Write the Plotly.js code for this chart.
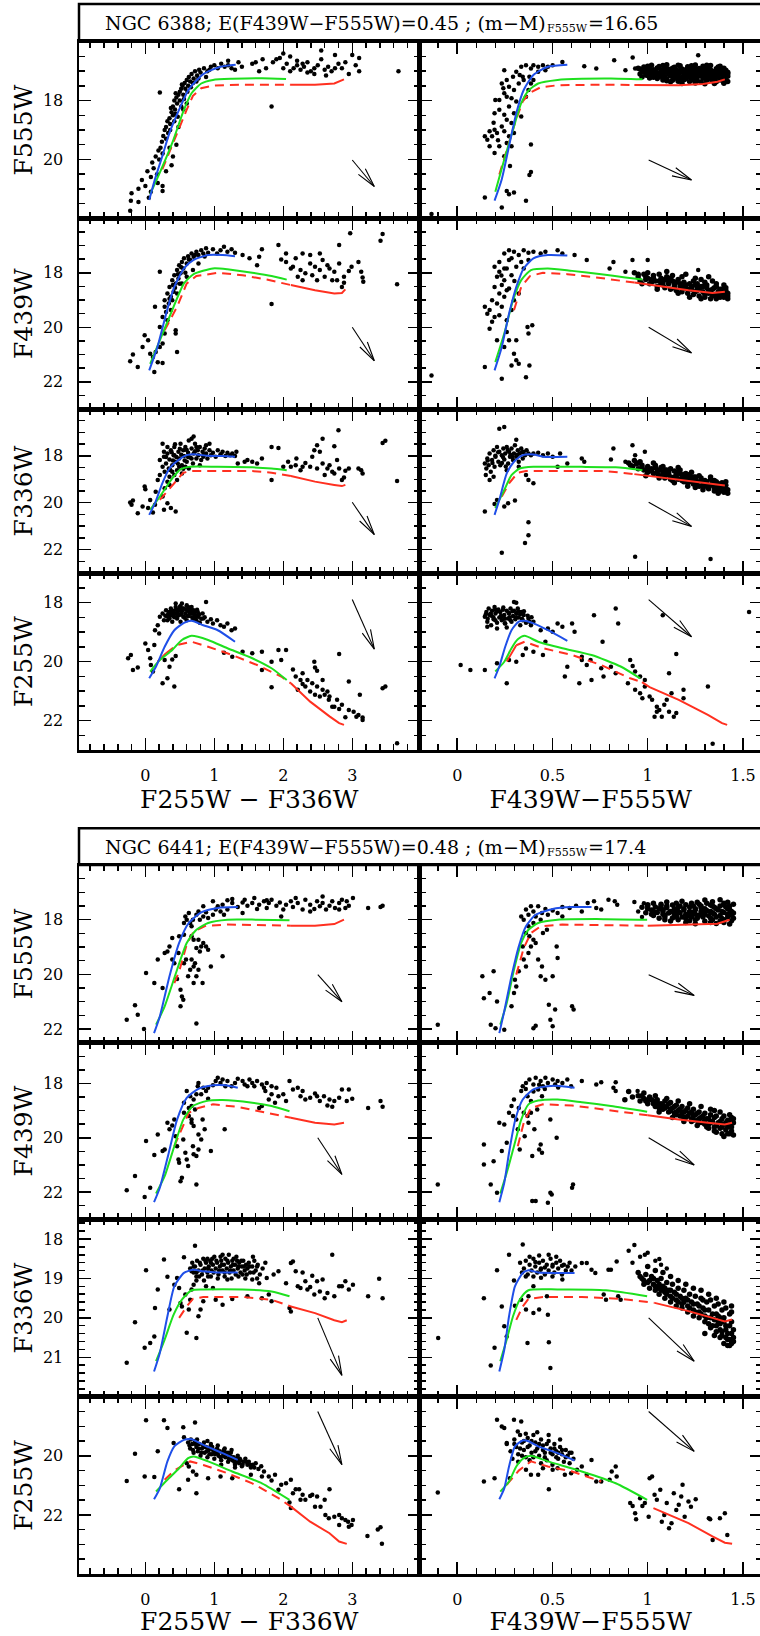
<!DOCTYPE html>
<html><head><meta charset="utf-8">
<script src="https://cdn.plot.ly/plotly-3.0.1.min.js"></script>
<style>html,body{margin:0;padding:0;overflow:hidden;background:#fff}</style>
</head><body><div id="chart"></div>
<script>
// ---------------- titles & labels ----------------
const title1Parts = ['NGC 6388; E(F439W\u2212F555W)=0.45 ; (m\u2212M)', 'F555W', '=16.65'];
const title2Parts = ['NGC 6441; E(F439W\u2212F555W)=0.48 ; (m\u2212M)', 'F555W', '=17.4'];
const xTitles = ['F255W \u2212 F336W', 'F439W\u2212F555W'];
const yTitles = ['F555W','F439W','F336W','F255W','F555W','F439W','F336W','F255W'];
const xTickVals = [[0,1,2,3],[0,0.5,1,1.5]];
const xTickText = [['0','1','2','3'],['0','0.5','1','1.5']];
const yTickVals = [[18,20],[18,20,22],[18,20,22],[18,20,22],[18,20,22],[18,20,22],[18,19,20,21],[20,22]];
const yTickText = [['18','20'],['18','20','22'],['18','20','22'],['18','20','22'],['18','20','22'],['18','20','22'],['18','19','20','21'],['20','22']];

// ================= NGC 6388 =================
// --- row 1 : F555W ---
const A1L_blue = [[0.056,21.38],[0.14,20.67],[0.246,19.89],[0.35,19.10],[0.49,18.31],[0.63,17.62],[0.84,17.10],[1.09,16.85],[1.31,16.78]];
const A1L_green = [[0.07,21.18],[0.21,20.45],[0.39,19.44],[0.56,18.31],[0.67,17.75],[0.81,17.42],[0.98,17.30],[1.26,17.26],[1.69,17.24],[2.04,17.27]];
const A1L_rdash = [[0.246,20.34],[0.42,19.33],[0.60,18.31],[0.69,17.84],[0.81,17.58],[0.98,17.49],[1.41,17.46],[1.83,17.46],[2.11,17.46]];
const A1L_rsolid = [[2.11,17.46],[2.46,17.46],[2.74,17.42],[2.88,17.28]];
const A1L_arrow = [3.0,20.02,3.32,20.92];
const A1L_pts = [[-0.22,21.74],[-0.21,21.4],[-0.2,21.15],[-0.1,21.45],[-0.1,21.0],[-0.05,20.7],[0.0,20.9],[0.03,20.4],[0.05,21.3],[0.08,21.1],[0.1,20.1],[0.12,20.3],[0.15,19.9],[0.17,20.5],[0.19,19.7],[0.2,20.0],[0.22,19.6],[0.24,19.4],[0.25,19.8],[0.26,19.2],[0.28,19.0],[0.3,19.3],[0.3,18.9],[0.32,18.7],[0.33,19.1],[0.35,18.6],[0.36,18.8],[0.38,18.4],[0.4,18.5],[0.4,18.2],[0.42,18.0],[0.43,18.3],[0.45,17.9],[0.46,18.1],[0.48,17.8],[0.5,17.7],[0.5,18.0],[0.52,17.6],[0.54,17.5],[0.55,17.8],[0.57,17.4],[0.58,17.6],[0.6,17.3],[0.62,17.5],[0.63,17.2],[0.65,17.35],[0.67,17.1],[0.7,17.25],[0.72,17.0],[0.75,17.15],[0.78,16.95],[0.8,17.05],[0.85,16.9],[0.9,17.0],[0.95,16.85],[1.0,16.8],[1.05,16.9],[1.1,16.75],[1.15,16.85],[1.2,16.8],[1.25,16.9],[1.3,16.95],[0.21,17.73],[0.35,19.6],[0.4,19.9],[0.38,20.2],[0.45,19.5],[0.25,21.07],[0.55,18.3],[0.6,18.1],[0.48,18.9],[0.44,18.45],[0.25,20.9],[0.18,20.8],[0.08,20.6],[0.3,20.4],[0.36,19.0],[0.42,18.7],[0.47,18.55],[0.52,18.2],[0.56,17.95],[0.66,17.55],[0.74,17.35],[0.88,17.2],[0.37,18.25],[0.44,17.75],[0.53,17.45],[0.61,17.7],[0.69,17.4],[0.77,17.25],[0.93,16.95],
[1.4,16.85],[1.55,16.75],[1.65,17.0],[1.75,16.9],[1.85,16.7],[1.9,16.6],[2.0,16.9],[2.05,16.75],[2.1,17.0],[2.15,16.9],[2.2,16.8],[2.25,16.95],[2.3,16.85],[2.35,16.7],[2.4,17.0],[2.45,16.9],[2.5,16.8],[2.55,16.6],[2.6,16.95],[2.65,16.85],[2.7,17.0],[2.75,16.9],[2.8,16.75],[2.9,16.7],[3.05,16.8],[3.1,17.0],[3.1,16.55],[2.1,16.5],[2.0,16.4],[1.95,16.55],[2.55,16.3],[3.0,16.45],[2.75,16.45],[2.2,16.65],[2.35,17.05],[2.45,17.1],[1.6,16.7],[1.2,16.65],[1.35,16.7],[3.67,17.0],[1.83,18.2],[2.85,16.9],[2.95,17.1],[2.62,17.15],[2.28,16.75],[1.7,16.6]];

const A1R_blue = [[0.196,21.40],[0.234,20.67],[0.272,19.55],[0.31,18.43],[0.349,17.64],[0.40,17.13],[0.476,16.85],[0.578,16.78]];
const A1R_green = [[0.20,21.10],[0.247,20.0],[0.293,18.99],[0.336,18.09],[0.374,17.66],[0.425,17.42],[0.527,17.30],[0.654,17.26],[0.807,17.25],[0.972,17.28]];
const A1R_rdash = [[0.221,20.51],[0.26,19.66],[0.303,18.76],[0.344,18.03],[0.382,17.73],[0.438,17.55],[0.527,17.48],[0.781,17.46],[0.93,17.47]];
const A1R_rsolid = [[0.93,17.47],[1.036,17.48],[1.163,17.48],[1.29,17.44],[1.366,17.36],[1.405,17.28]];
const A1R_arrow = [1.005,20.02,1.23,20.70];
const A1R_pts = [[0.31,17.02],[0.336,16.85],[0.361,16.8],[0.387,16.91],[0.4,16.8],[0.425,16.85],[0.45,16.8],[0.476,16.85],[0.501,16.8],[0.552,16.69],[0.247,16.97],[0.234,17.42],[0.26,17.3],[0.272,17.53],[0.247,17.75],[0.221,17.98],[0.26,17.87],[0.298,17.64],[0.285,17.92],[0.323,17.42],[0.31,18.03],[0.349,17.3],[0.196,18.43],[0.221,18.31],[0.247,18.48],[0.272,18.2],[0.298,18.43],[0.234,18.88],[0.26,18.65],[0.285,18.76],[0.196,18.99],[0.17,19.04],[0.145,19.21],[0.158,19.33],[0.183,19.21],[0.209,19.1],[0.247,19.04],[0.272,19.21],[0.221,19.55],[0.26,19.44],[0.285,19.55],[0.298,19.1],[0.361,17.87],[0.374,17.64],[0.387,17.42],[0.4,17.3],[0.344,17.19],[0.379,17.19],[0.336,18.54],[0.387,19.49],[0.379,20.53],[0.387,20.43],[0.26,21.07],[0.272,21.18],[0.298,21.12],[0.361,21.4],[0.234,21.63],[-0.135,21.85],[0.145,21.29],[0.17,19.55],[0.196,19.78],[0.247,19.89],[0.277,20.22],[0.2,17.98],[0.242,17.58],[0.293,17.19],[0.328,17.13],[0.425,17.02],[0.463,16.97],[0.667,16.83],[0.824,16.63],[0.921,16.54],[0.934,16.91],[0.883,16.97],[1.01,16.85],[1.265,16.46],[0.73,16.91],[0.214,19.35],[0.191,18.75]];
const A1R_clump = [[1.02,16.8],[1.1,16.78],[1.17,16.82],[1.25,16.79],[1.33,16.81],[0.98,16.86],[1.06,16.84],[1.14,16.87],[1.21,16.85],[1.29,16.83],[1.37,16.86],[0.95,16.9],[1.0,16.92],[1.05,16.89],[1.09,16.91],[1.13,16.9],[1.18,16.93],[1.22,16.89],[1.27,16.91],[1.31,16.9],[1.36,16.92],[1.4,16.9],[0.97,16.96],[1.03,16.95],[1.07,16.97],[1.11,16.94],[1.15,16.96],[1.2,16.95],[1.24,16.97],[1.29,16.94],[1.33,16.96],[1.38,16.95],[1.41,16.97],[0.99,17.0],[1.04,17.01],[1.08,16.99],[1.12,17.02],[1.16,17.0],[1.19,17.01],[1.23,16.99],[1.26,17.02],[1.3,17.0],[1.34,17.01],[1.37,16.99],[1.4,17.02],[1.01,17.05],[1.05,17.06],[1.09,17.04],[1.13,17.06],[1.17,17.05],[1.21,17.04],[1.25,17.06],[1.28,17.05],[1.32,17.04],[1.35,17.06],[1.39,17.05],[1.42,17.04],[0.96,17.1],[1.02,17.11],[1.07,17.09],[1.11,17.1],[1.15,17.12],[1.19,17.09],[1.23,17.11],[1.27,17.1],[1.31,17.09],[1.34,17.11],[1.38,17.1],[1.41,17.12],[1.0,17.15],[1.04,17.16],[1.08,17.14],[1.12,17.16],[1.16,17.15],[1.2,17.14],[1.24,17.16],[1.28,17.15],[1.32,17.14],[1.36,17.16],[1.4,17.15],[0.97,17.2],[1.03,17.21],[1.09,17.19],[1.14,17.2],[1.18,17.22],[1.22,17.19],[1.26,17.21],[1.3,17.2],[1.33,17.19],[1.37,17.21],[1.41,17.2],[1.05,17.25],[1.1,17.26],[1.15,17.24],[1.2,17.26],[1.25,17.25],[1.29,17.24],[1.35,17.26],[1.39,17.25],[1.08,17.3],[1.13,17.31],[1.19,17.29],[1.24,17.3],[1.31,17.31],[1.38,17.3],[1.12,17.36],[1.22,17.35],[1.28,17.37],[1.36,17.36],[1.42,17.35],[1.18,17.42],[1.3,17.43],[1.4,17.41],
[1.0,16.83],[1.08,16.81],[1.16,16.8],[1.23,16.82],[1.31,16.8],[1.38,16.83],[0.96,16.93],[1.02,16.98],[1.1,16.98],[1.17,16.98],[1.25,16.93],[1.32,16.98],[1.39,16.93],[0.98,17.03],[1.06,17.08],[1.14,17.03],[1.22,17.08],[1.3,17.03],[1.37,17.08],[1.42,17.09],[0.99,17.13],[1.06,17.18],[1.14,17.13],[1.21,17.18],[1.29,17.13],[1.35,17.19],[1.42,17.17],[1.01,17.23],[1.08,17.23],[1.17,17.27],[1.23,17.23],[1.32,17.27],[1.4,17.28],[1.1,17.33],[1.16,17.34],[1.26,17.33],[1.34,17.33],[1.4,17.38],[1.25,17.4],[1.35,17.42]];

// --- row 2 : F439W ---
const A2L_blue = [[0.056,21.58],[0.176,20.72],[0.316,19.37],[0.42,18.52],[0.56,17.84],[0.70,17.53],[0.91,17.35],[1.12,17.35],[1.3,17.39]];
const A2L_green = [[0.07,21.34],[0.21,20.48],[0.39,19.37],[0.56,18.39],[0.70,18.05],[0.98,17.84],[1.19,17.87],[1.55,18.0],[1.83,18.12],[2.05,18.25]];
const A2L_rdash = [[0.28,20.11],[0.46,19.25],[0.60,18.39],[0.74,18.12],[1.05,18.0],[1.41,18.09],[1.76,18.25],[2.11,18.45]];
const A2L_rsolid = [[2.11,18.45],[2.46,18.64],[2.74,18.76],[2.85,18.74],[2.9,18.61]];
const A2L_arrow = [3.0,20.0,3.32,21.23];
const A2L_pts = [[-0.22,21.25],[-0.18,21.0],[-0.11,21.46],[-0.04,20.72],[-0.01,20.29],[0.04,20.48],[0.07,20.97],[0.11,21.09],[0.13,21.64],[0.18,21.28],[0.14,19.25],[0.21,17.96],[0.21,19.99],[0.25,19.62],[0.28,19.01],[0.3,19.44],[0.32,18.76],[0.34,19.13],[0.35,18.52],[0.37,18.88],[0.39,18.27],[0.41,18.7],[0.42,18.09],[0.44,18.39],[0.46,17.9],[0.48,18.21],[0.49,17.72],[0.51,18.02],[0.53,17.6],[0.55,17.84],[0.56,17.47],[0.6,17.66],[0.62,17.39],[0.65,17.53],[0.67,17.29],[0.7,17.41],[0.74,17.23],[0.77,17.35],[0.81,17.17],[0.84,17.29],[0.88,17.1],[0.91,17.26],[0.98,17.14],[1.04,17.29],[1.09,17.17],[1.14,17.04],[1.19,17.23],[1.25,17.14],[1.3,17.26],[0.32,19.74],[0.37,19.37],[0.28,20.23],[0.25,20.6],[0.39,19.01],[0.46,18.76],[0.44,20.11],[0.44,20.23],[0.46,20.91],[0.21,20.72],[0.25,21.31],[0.15,20.91],[0.28,19.25],[0.53,18.39],[0.6,18.15],[0.69,17.9],[0.77,17.66],[0.35,18.95],[0.43,18.55],[0.5,18.4],[0.58,18.0],[0.4,18.45],[0.47,18.05],[0.52,17.8],[0.63,17.5],[0.72,17.35],[0.86,17.4],
[1.69,17.14],[1.93,16.98],[2.18,17.47],[2.28,17.29],[2.39,17.66],[2.46,17.78],[2.53,17.9],[2.57,17.53],[2.64,17.72],[2.67,17.84],[2.74,17.96],[2.78,18.27],[2.81,17.66],[2.85,18.52],[2.88,18.15],[2.95,17.93],[2.99,17.78],[3.09,17.6],[3.13,17.96],[3.15,18.17],[3.16,18.33],[1.97,17.51],[2.04,17.6],[2.11,17.84],[2.25,17.9],[2.32,18.02],[2.42,18.09],[2.49,18.27],[2.6,18.15],[2.71,18.27],[1.65,17.41],[1.62,17.72],[1.51,17.47],[1.41,17.35],[2.04,17.29],[2.14,17.78],[2.21,18.15],[2.28,18.27],[2.53,17.29],[2.39,17.35],[2.81,16.98],[2.88,18.37],[2.97,16.55],[3.44,16.58],[3.41,16.82],[3.65,18.42],[1.83,19.15]];

const A2R_blue = [[0.196,21.58],[0.234,20.72],[0.272,19.5],[0.31,18.52],[0.349,17.84],[0.4,17.47],[0.476,17.35],[0.578,17.37]];
const A2R_green = [[0.2,21.28],[0.247,20.23],[0.293,19.01],[0.336,18.27],[0.387,17.9],[0.476,17.84],[0.603,17.93],[0.756,18.05],[0.883,18.17],[0.972,18.25]];
const A2R_rdash = [[0.298,19.37],[0.336,18.52],[0.382,18.12],[0.45,18.0],[0.578,18.05],[0.73,18.17],[0.93,18.36]];
const A2R_rsolid = [[0.93,18.36],[1.06,18.49],[1.214,18.64],[1.34,18.74],[1.405,18.7]];
const A2R_arrow = [1.005,20.0,1.23,20.94];
const A2R_pts = [[0.221,17.6],[0.247,17.29],[0.272,17.53],[0.298,17.23],[0.323,17.35],[0.349,17.17],[0.374,17.26],[0.4,17.23],[0.438,17.29],[0.463,17.23],[0.527,17.17],[0.552,17.29],[0.221,17.96],[0.247,18.27],[0.26,17.84],[0.285,18.09],[0.31,17.78],[0.336,17.6],[0.196,18.52],[0.221,18.76],[0.247,18.88],[0.272,18.58],[0.183,19.01],[0.209,19.13],[0.234,19.25],[0.145,19.25],[0.158,19.5],[0.17,19.37],[0.196,19.62],[0.221,19.56],[0.26,19.74],[0.285,19.37],[0.298,19.01],[0.323,18.76],[0.26,18.64],[0.234,18.45],[0.209,18.15],[0.349,17.84],[0.374,17.53],[0.26,20.17],[0.272,20.48],[0.247,20.72],[0.298,20.97],[0.31,21.21],[0.323,21.34],[0.285,21.4],[0.361,21.83],[0.379,21.4],[0.374,20.23],[0.394,19.93],[0.234,21.89],[0.145,21.46],[-0.135,21.77],[0.209,20.48],[0.17,20.05],[0.183,19.8],[0.369,19.99],[0.31,20.48],[0.247,17.84],[0.285,17.47],[0.196,17.78],[0.272,17.17],[0.616,17.35],[0.68,17.53],[0.8,17.84],[0.82,17.6],[0.883,17.96],[0.92,17.53],[1.0,17.53],[1.265,17.9],[0.232,18.1],[0.3,18.3]];
const A2R_clump = [[0.93,18.0],[0.95,18.15],[0.96,18.3],[0.98,18.05],[1.0,18.2],[1.01,18.4],[1.03,18.1],[1.04,18.3],[1.05,18.5],[1.07,18.2],[1.08,18.35],[1.09,18.55],[1.1,18.15],[1.11,18.4],[1.12,18.6],[1.13,18.3],[1.14,18.45],[1.15,18.65],[1.16,18.25],[1.17,18.5],[1.18,18.7],[1.19,18.35],[1.2,18.55],[1.21,18.75],[1.22,18.4],[1.23,18.6],[1.24,18.8],[1.25,18.45],[1.26,18.65],[1.27,18.85],[1.28,18.5],[1.29,18.7],[1.3,18.9],[1.31,18.55],[1.32,18.75],[1.33,18.95],[1.34,18.6],[1.35,18.8],[1.36,18.5],[1.37,18.7],[1.38,18.9],[1.39,18.6],[1.4,18.8],[1.41,18.65],[1.42,18.85],[1.0,18.0],[1.06,18.05],[1.12,18.2],[1.18,18.15],[1.24,18.3],[1.3,18.35],[1.36,18.4],[1.02,18.25],[1.08,18.45],[1.14,18.55],[1.2,18.45],[1.26,18.55],[1.32,18.65],[1.38,18.75],[0.97,18.4],[1.05,18.6],[1.16,18.75],[1.22,18.9],[1.28,18.25],[1.34,18.3],[1.4,18.45],[1.42,18.95],[1.36,18.95],[1.1,17.95],[1.2,18.05],[1.32,18.15],
[0.95,18.05],[0.99,18.15],[1.03,18.2],[1.06,18.3],[1.09,18.25],[1.11,18.3],[1.15,18.35],[1.17,18.4],[1.19,18.5],[1.21,18.6],[1.23,18.5],[1.25,18.7],[1.27,18.6],[1.29,18.5],[1.3,18.8],[1.33,18.7],[1.35,18.55],[1.37,18.85],[1.39,18.75],[1.41,18.55],[1.42,18.75],[1.34,18.85],[1.26,18.4],[1.18,18.6],[1.14,18.35],[1.07,18.4],[1.02,18.35],[0.99,18.25],[1.13,18.1],[1.25,18.2],[1.38,18.6],[1.31,18.45],[1.4,18.9],[1.28,18.95]];

// --- row 3 : F336W ---
const A3L_blue = [[0.056,20.52],[0.14,20.02],[0.246,19.17],[0.35,18.54],[0.48,18.18],[0.6,17.97],[0.70,17.93],[0.91,18.0],[1.12,18.01],[1.3,18.04]];
const A3L_green = [[0.07,20.3],[0.21,19.74],[0.39,18.96],[0.51,18.58],[0.63,18.47],[1.05,18.47],[1.55,18.49],[1.83,18.54],[2.05,18.61]];
const A3L_rdash = [[0.21,19.88],[0.39,19.24],[0.55,18.72],[0.67,18.65],[1.05,18.65],[1.55,18.65],[1.83,18.72],[2.11,18.86]];
const A3L_rsolid = [[2.11,18.86],[2.46,19.1],[2.74,19.24],[2.85,19.29],[2.9,19.24]];
const A3L_arrow = [3.0,19.98,3.32,21.36];
const A3L_pts = [[-0.22,19.99],[-0.2,20.09],[-0.18,19.91],[-0.11,20.45],[-0.04,20.16],[-0.01,19.31],[0,19.43],[0.04,20.23],[0.07,19.88],[0.11,20.42],[0.14,20.09],[0.15,19.53],[0.18,19.03],[0.21,18.82],[0.27,20.3],[0.35,19.24],[0.37,20.23],[0.44,20.37],[0.32,20.02],[0.25,19.74],
[0.21,18.18],[0.25,18.47],[0.27,18.04],[0.28,18.68],[0.3,18.33],[0.32,17.9],[0.34,18.54],[0.35,18.16],[0.37,17.76],[0.39,18.4],[0.41,17.97],[0.42,17.62],[0.44,18.25],[0.46,18.61],[0.48,17.83],[0.49,18.11],[0.51,17.48],[0.53,18.4],[0.55,17.76],[0.56,18.01],[0.58,17.62],[0.6,18.25],[0.62,17.87],[0.63,17.34],[0.65,18.07],[0.67,17.69],[0.69,18.33],[0.7,17.9],[0.72,17.48],[0.74,18.11],[0.76,17.76],[0.77,17.97],[0.79,17.62],[0.81,18.18],[0.83,17.83],[0.84,18.04],[0.86,17.69],[0.88,17.9],[0.9,18.11],[0.93,17.76],[0.95,17.97],[0.98,17.87],[1.02,18.04],[1.05,17.76],[1.09,17.93],[1.12,17.83],[1.16,18.01],[1.19,17.87],[1.23,17.97],[1.26,17.9],[1.3,18.01],[1.32,17.83],[0.32,19.1],[0.35,18.89],[0.28,19.38],[0.39,18.68],[0.42,18.82],[0.46,19.03],[0.49,18.47],[0.53,18.75],[0.67,17.27],[0.7,17.17],[0.88,17.55],[0.93,17.48],[0.79,18.4],[0.63,18.54],[0.32,17.62],[0.27,17.83],[0.25,17.48],[0.42,17.97],[0.47,18.33],[0.58,18.47],[0.67,18.11],[0.74,17.62],[0.4,18.2],[0.52,17.95],[0.6,17.75],[0.36,18.6],[0.45,18.05],[0.57,18.2],[0.38,17.85],[0.5,17.7],[0.62,18.05],[0.72,17.8],[0.85,17.95],[0.55,18.55],[0.3,18.05],[0.43,17.5],
[1.83,17.62],[1.93,17.66],[1.69,18.11],[1.55,18.25],[1.48,18.18],[2.07,18.25],[2.11,18.47],[2.18,18.4],[2.25,18.61],[2.32,18.3],[2.39,18.47],[2.42,18.04],[2.45,17.76],[2.49,17.55],[2.53,17.83],[2.57,18.33],[2.6,18.82],[2.64,18.54],[2.67,18.4],[2.71,18.68],[2.74,18.75],[2.78,18.18],[2.8,16.91],[2.85,19.03],[2.88,18.92],[2.9,18.64],[2.95,18.54],[3.13,18.61],[3.15,18.75],[3.09,18.54],[2.57,17.27],[2.74,17.59],[3.65,19.07],[3.44,17.45],[3.48,17.36],[1.83,19.03],[2.28,18.47],[2.49,18.54],[2.81,18.54],[2.19,18.11],[2.0,18.47],[1.62,18.33],[1.34,18.33],[1.44,18.25]];

const A3R_blue = [[0.196,20.52],[0.221,19.88],[0.26,18.75],[0.298,18.25],[0.344,17.97],[0.4,17.94],[0.45,18.04],[0.578,18.04]];
const A3R_green = [[0.2,20.23],[0.247,19.46],[0.285,18.82],[0.328,18.54],[0.4,18.47],[0.654,18.47],[0.832,18.49],[0.972,18.61]];
const A3R_rdash = [[0.234,19.74],[0.272,19.17],[0.318,18.72],[0.361,18.65],[0.527,18.65],[0.78,18.65],[0.93,18.78]];
const A3R_rsolid = [[0.93,18.78],[1.036,18.89],[1.163,19.03],[1.29,19.17],[1.405,19.27]];
const A3R_arrow = [1.005,19.98,1.23,21.01];
const A3R_pts = [[0.145,18.33],[0.153,18.54],[0.158,18.11],[0.165,18.4],[0.17,17.9],[0.176,18.68],[0.183,18.18],[0.191,17.76],[0.196,18.47],[0.201,18.04],[0.209,17.62],[0.216,18.25],[0.221,17.83],[0.226,18.4],[0.234,17.97],[0.242,17.69],[0.247,18.16],[0.252,17.9],[0.26,17.62],[0.267,18.33],[0.272,17.83],[0.277,18.04],[0.285,17.69],[0.293,18.18],[0.298,17.9],[0.303,17.55],[0.31,18.04],[0.318,17.76],[0.323,18.25],[0.328,17.9],[0.336,17.69],[0.344,18.11],[0.349,17.83],[0.356,17.97],[0.364,17.76],[0.374,17.9],[0.387,17.97],[0.4,17.9],[0.425,17.87],[0.45,17.97],[0.476,17.9],[0.501,18.04],[0.54,17.9],[0.654,18.11],[0.667,18.25],[0.31,17.31],[0.221,16.84],[0.247,16.77],[0.145,20.37],[0.196,20.05],[0.209,19.88],[0.247,20.16],[0.267,20.02],[0.303,19.91],[0.374,20.83],[0.374,21.39],[0.356,21.72],[0.234,22.14],[0.374,19.03],[0.4,19.17],[0.361,18.82],[0.934,22.31],[1.33,22.4],[0.15,18.82],[0.17,19.03],[0.191,18.89],[0.26,18.61],[0.323,18.47],[0.82,17.69],[0.92,17.55],[0.934,17.97],[0.985,17.83],[0.807,18.16],[0.527,18.47],[0.578,18.33],[0.883,18.25],[0.2,18.0],[0.235,18.3],[0.28,17.95],[0.255,18.45],[0.185,18.3],[0.215,17.85],[0.24,18.05],[0.265,17.75],[0.29,18.05],[0.315,17.95],[0.34,17.85],[0.16,18.2]];
const A3R_clump = [[0.9,18.3],[0.92,18.45],[0.94,18.35],[0.95,18.55],[0.97,18.4],[0.98,18.6],[1.0,18.45],[1.0,18.7],[0.93,18.2],[0.96,18.25],[1.02,18.55],[1.03,18.75],[1.04,18.4],[1.05,18.65],[1.06,18.85],[1.07,18.5],[1.08,18.7],[1.09,18.95],[1.1,18.6],[1.1,18.8],[1.03,18.3],[1.08,18.45],[1.11,18.7],[1.12,18.9],[1.13,19.05],[1.14,18.65],[1.15,18.8],[1.16,19.0],[1.17,18.75],[1.18,18.9],[1.19,19.1],[1.2,18.85],[1.2,19.0],[1.12,18.55],[1.17,18.6],[1.21,19.15],[1.22,18.8],[1.23,19.0],[1.24,19.2],[1.25,18.9],[1.26,19.1],[1.27,19.3],[1.28,18.95],[1.29,19.15],[1.3,19.05],[1.3,19.3],[1.23,18.7],[1.27,18.85],[1.25,19.35],[1.31,19.2],[1.32,19.4],[1.33,19.0],[1.34,19.25],[1.35,19.5],[1.36,19.1],[1.37,19.3],[1.38,19.45],[1.39,19.15],[1.4,19.35],[1.4,19.55],[1.41,19.25],[1.42,19.45],[1.33,18.9],[1.37,19.6],[1.35,19.05],[1.38,19.2],[1.41,19.1],[1.06,18.95],[1.14,19.15],[1.21,19.3],[1.29,19.45],[1.16,18.5],[0.99,18.85],
[0.91,18.4],[0.95,18.3],[0.97,18.5],[1.0,18.55],[1.02,18.65],[1.04,18.5],[1.06,18.6],[1.08,18.8],[1.09,18.6],[1.11,18.8],[1.12,19.0],[1.14,18.9],[1.16,18.7],[1.18,19.05],[1.19,18.8],[1.21,18.95],[1.22,19.1],[1.24,18.9],[1.26,19.25],[1.28,19.05],[1.29,19.3],[1.31,19.1],[1.32,19.3],[1.34,19.1],[1.36,19.4],[1.37,19.2],[1.38,19.5],[1.39,19.3],[1.41,19.4],[1.42,19.6],[1.4,19.2],[1.35,19.35],[1.3,19.2],[1.25,19.0],[1.2,18.75],[1.15,18.9],[1.1,18.7],[1.05,18.75]];

// --- row 4 : F255W ---
const A4L_blue = [[0.056,20.57],[0.155,20.17],[0.28,19.5],[0.42,18.94],[0.56,18.69],[0.67,18.62],[0.84,18.77],[1.05,18.94],[1.3,19.33]];
const A4L_green = [[0.07,20.34],[0.21,19.95],[0.39,19.61],[0.53,19.27],[0.67,19.13],[0.91,19.27],[1.19,19.55],[1.55,19.89],[1.83,20.23],[2.05,20.63]];
const A4L_rdash = [[0.3,19.72],[0.45,19.45],[0.67,19.33],[0.91,19.5],[1.26,19.78],[1.62,20.12],[1.97,20.51],[2.11,20.74]];
const A4L_rsolid = [[0.18,20.0],[0.3,19.72],null,[2.11,20.74],[2.39,21.36],[2.67,21.86],[2.81,22.09],[2.88,22.15]];
const A4L_arrow = [3.0,17.9,3.32,19.58];
const A4L_pts = [[0.21,18.48],[0.25,18.37],[0.27,18.6],[0.3,18.26],[0.32,18.46],[0.34,18.32],[0.35,18.54],[0.37,18.2],[0.39,18.39],[0.41,18.28],[0.42,18.5],[0.44,18.15],[0.46,18.35],[0.48,18.24],[0.49,18.42],[0.51,18.12],[0.53,18.3],[0.55,18.48],[0.56,18.2],[0.58,18.37],[0.6,18.09],[0.62,18.28],[0.63,18.46],[0.65,18.2],[0.67,18.37],[0.69,18.57],[0.7,18.26],[0.72,18.42],[0.74,18.6],[0.76,18.32],[0.77,18.48],[0.79,18.69],[0.83,18.37],[0.84,18.54],[0.88,17.98],[0.9,18.65],[0.95,18.57],[0.98,18.71],[1.04,18.6],[1.09,18.77],[1.14,18.82],[1.19,18.71],[1.25,18.94],[1.3,18.88],[0.32,18.6],[0.39,18.65],[0.46,18.54],[0.51,18.65],[0.6,18.6],[0.44,18.03],[0.53,18.03],[0.67,18.15],[0.36,18.42],[0.43,18.38],[0.5,18.28],[0.57,18.52],[0.64,18.33],
[0.33,18.4],[0.38,18.3],[0.4,18.45],[0.45,18.25],[0.47,18.45],[0.52,18.4],[0.54,18.2],[0.59,18.25],[0.61,18.45],[0.66,18.28],[0.68,18.5],[0.71,18.35],[0.73,18.5],[0.78,18.4],[0.81,18.55],[0.86,18.5],[0.29,18.45],[0.5,18.15],[0.62,18.15],[0.75,18.25],
[-0.21,19.78],[-0.25,19.89],[-0.18,20.29],[-0.11,20.2],[0,19.39],[0.04,19.61],[0.07,19.89],[0.08,20.12],[0.11,20.34],[0.14,18.94],[0.18,18.77],[0.2,19.05],[0.25,20.74],[0.32,20.57],[0.42,20.85],[0.35,20.18],[0.28,19.95],[0.39,19.93],[0.44,19.81],[0.13,19.44],
[1.55,19.72],[1.69,19.67],[1.69,20.29],[1.83,20.01],[1.93,19.61],[2.04,19.61],[1.97,19.95],[2.14,20.27],[2.18,20.51],[2.25,20.63],[2.28,20.76],[2.32,20.85],[2.35,20.63],[2.39,21.02],[2.42,20.74],[2.46,21.13],[2.49,20.85],[2.53,21.19],[2.57,20.96],[2.6,21.13],[2.64,21.02],[2.67,21.19],[2.45,20.01],[2.46,20.2],[2.49,20.31],[2.74,21.53],[2.81,21.61],[2.85,21.47],[2.95,21.64],[3.02,21.7],[3.06,21.87],[3.09,21.81],[3.15,21.9],[3.15,21.98],[2.9,21.89],[2.71,21.53],[2.78,21.3],[2.81,19.75],[2.95,20.68],[3.11,21.13],[3.44,20.91],[3.48,20.85],[3.65,22.77],[1.83,20.87],[1.14,19.7],[1.26,19.84],[1.41,19.67],[2.21,20.96],[2.28,20.4],[2.57,20.63],[2.66,21.3]];

const A4R_blue = [[0.196,20.57],[0.221,20.17],[0.252,19.5],[0.285,18.94],[0.323,18.65],[0.354,18.62],[0.4,18.71],[0.476,18.94],[0.578,19.3]];
const A4R_green = [[0.2,20.34],[0.247,20.01],[0.285,19.55],[0.318,19.25],[0.354,19.13],[0.425,19.33],[0.552,19.55],[0.705,19.78],[0.858,20.17],[0.96,20.57]];
const A4R_rdash = [[0.31,19.45],[0.354,19.33],[0.45,19.55],[0.603,19.78],[0.756,20.12],[0.908,20.57],[0.97,20.7]];
const A4R_rsolid = [[0.26,20.0],[0.31,19.45],null,[0.97,20.7],[1.01,20.87],[1.163,21.3],[1.316,21.81],[1.39,22.09],[1.417,22.15]];
const A4R_arrow = [1.005,17.9,1.23,19.16];
const A4R_pts = [[0.145,18.48],[0.153,18.32],[0.158,18.65],[0.165,18.2],[0.17,18.42],[0.178,18.77],[0.183,18.28],[0.191,18.57],[0.196,18.15],[0.201,18.37],[0.209,18.69],[0.216,18.24],[0.221,18.51],[0.226,18.32],[0.234,18.6],[0.242,18.17],[0.247,18.42],[0.252,18.71],[0.26,18.28],[0.267,18.54],[0.272,18.37],[0.28,18.2],[0.285,18.65],[0.293,18.46],[0.298,18.28],[0.305,18.57],[0.31,18.37],[0.318,18.2],[0.323,18.51],[0.331,18.77],[0.336,18.32],[0.344,18.6],[0.349,18.42],[0.361,18.69],[0.374,18.54],[0.387,18.77],[0.4,18.65],[0.298,17.98],[0.31,18.01],[0.158,18.82],[0.209,18.88],[0.26,18.85],[0.176,18.37],[0.19,18.5],[0.23,18.45],[0.275,18.5],[0.32,18.3],
[0.15,18.4],[0.16,18.55],[0.18,18.45],[0.2,18.6],[0.21,18.3],[0.23,18.5],[0.24,18.25],[0.25,18.55],[0.27,18.35],[0.28,18.6],[0.29,18.3],[0.31,18.5],[0.33,18.4],[0.34,18.55],[0.35,18.3],[0.37,18.45],[0.38,18.65],[0.39,18.5],[0.2,18.25],[0.25,18.7],
[0.018,20.12],[0.069,20.29],[0.145,20.29],[0.209,20.06],[0.26,20.74],[0.272,19.95],[0.31,20.01],[0.344,19.78],[0.361,19.56],[0.4,19.67],[0.45,19.78],[0.463,19.33],[0.438,18.94],[0.501,18.99],[0.603,18.71],[0.616,18.99],[0.654,19.84],[0.718,18.43],[0.763,19.33],[0.7,19.95],[0.756,20.23],[0.565,20.51],[0.578,20.18],[0.641,20.74],[0.654,19.95],[0.68,20.12],[0.705,20.63],[0.768,20.51],[0.832,18.2],[0.845,18.71],[0.832,20.4],[0.807,20.18],[0.908,19.95],[0.921,20.15],[0.934,20.34],[0.96,20.51],[0.985,20.63],[0.896,20.74],[0.934,20.96],[0.96,21.08],[0.972,21.25],[0.985,20.85],[1.01,21.19],[1.023,21.3],[1.048,21.53],[1.061,21.64],[1.087,21.47],[1.1,21.3],[1.112,21.7],[1.125,21.08],[1.137,21.87],[1.15,21.75],[1.188,20.96],[1.188,21.25],[1.048,21.7],[1.074,21.87],[1.036,21.87],[1.15,19.75],[1.079,18.43],[1.316,20.85],[1.532,18.32],[1.341,22.79],[1.112,20.4],[0.527,18.71],[0.476,18.88],[0.552,18.82]];

// ================= NGC 6441 =================
// --- row 1 : F555W ---
const B1L_blue = [[0.126,22.15],[0.21,21.54],[0.35,20.07],[0.49,18.85],[0.63,18.12],[0.81,17.73],[1.05,17.57],[1.34,17.54]];
const B1L_green = [[0.155,21.84],[0.28,21.17],[0.46,19.83],[0.6,18.85],[0.74,18.37],[0.91,18.12],[1.19,18.0],[1.62,18.0],[2.09,18.02]];
const B1L_rdash = [[0.42,20.32],[0.49,19.89],[0.6,18.91],[0.7,18.43],[0.88,18.22],[1.19,18.18],[1.76,18.2],[2.11,18.22]];
const B1L_rsolid = [[2.11,18.22],[2.46,18.22],[2.74,18.16],[2.88,18.0]];
const B1L_arrow = [2.5,20.01,2.85,21.0];
const B1L_pts = [[-0.27,21.66],[-0.15,21.13],[-0.11,21.48],[-0.02,22.0],[0.01,19.95],[0.13,20.32],[0.18,19.46],[0.25,20.5],[0.28,19.22],[0.32,19.16],[0.35,18.98],[0.39,18.67],[0.39,19.46],[0.42,19.59],[0.46,20.17],[0.48,19.22],[0.49,18.61],[0.51,20.56],[0.53,20.81],[0.55,20.93],[0.51,21.17],[0.56,18.55],[0.58,17.88],[0.6,18.0],[0.63,17.76],[0.65,18.12],[0.67,19.46],[0.7,19.71],[0.7,20.32],[0.74,20.07],[0.77,19.83],[0.74,19.04],[0.7,18.73],[0.77,18.73],[0.81,18.98],[0.84,18.85],[0.88,18.98],[0.91,19.1],[0.95,19.71],[0.83,20.32],[0.79,19.16],[0.84,17.88],[0.88,17.73],[0.91,17.94],[0.98,17.82],[1.02,17.63],[1.05,17.51],[1.09,17.7],[1.12,19.34],[0.74,21.8],[0.67,18.61],[0.62,20.07],[0.65,19.83],[0.56,19.59],[0.59,19.46],[0.72,19.59],[0.69,18.0],[0.74,17.82],[0.79,18.0],[0.67,18.24],[0.56,18.12],
[0.98,17.33],[1.12,17.45],[1.19,17.29],[1.26,17.39],[1.34,17.54],[1.41,17.37],[1.44,17.27],[1.48,17.49],[1.55,17.39],[1.58,17.21],[1.65,17.45],[1.72,17.33],[1.76,17.57],[1.79,17.39],[1.83,17.27],[1.9,17.49],[1.95,17.37],[2.0,17.63],[2.04,17.45],[2.11,17.33],[2.14,17.54],[2.21,17.39],[2.28,17.63],[2.32,17.27],[2.39,17.45],[2.45,17.61],[2.49,17.33],[2.53,17.51],[2.57,17.39],[2.62,17.63],[2.67,17.49],[2.71,17.33],[2.75,17.57],[2.81,17.39],[2.85,17.27],[2.9,17.57],[2.95,17.49],[3.01,17.21],[3.23,17.57],[3.41,17.54],[3.44,17.49],[0.84,17.51],[0.77,17.7],[1.14,17.82],[1.41,17.76],[1.97,17.88],[1.19,17.63],[1.62,17.61],[2.39,17.7],[2.81,17.63],[1.26,17.24],[1.76,17.29],[2.18,17.21],[2.57,17.15],[2.92,17.33]];

const B1R_blue = [[0.221,22.15],[0.247,21.35],[0.285,20.07],[0.323,18.98],[0.361,18.24],[0.412,17.82],[0.501,17.61],[0.603,17.54],[0.705,17.54]];
const B1R_green = [[0.226,21.84],[0.26,21.05],[0.298,19.83],[0.336,18.85],[0.374,18.37],[0.425,18.12],[0.527,18.0],[0.781,17.98],[0.997,18.0]];
const B1R_rdash = [[0.31,20.01],[0.349,19.04],[0.387,18.49],[0.438,18.24],[0.552,18.18],[0.781,18.2],[1.0,18.22]];
const B1R_rsolid = [[1.0,18.22],[1.214,18.18],[1.366,18.15],[1.43,18.0]];
const B1R_arrow = [1.005,20.01,1.244,20.77];
const B1R_pts = [[0.132,20.07],[0.14,20.87],[0.17,20.68],[0.191,19.89],[0.209,20.99],[0.176,21.84],[0.201,21.97],[0.247,22.03],[0.285,21.17],[0.298,20.68],[0.303,20.2],[0.31,20.44],[0.323,19.89],[0.336,17.88],[0.349,18.0],[0.361,17.63],[0.374,17.82],[0.387,17.51],[0.4,17.7],[0.425,17.51],[0.445,17.76],[0.463,17.61],[0.349,19.46],[0.361,19.71],[0.374,19.22],[0.387,18.98],[0.4,18.73],[0.412,18.85],[0.425,19.46],[0.438,20.07],[0.445,19.71],[0.463,20.2],[0.481,21.11],[0.489,21.66],[0.501,21.9],[0.514,21.29],[0.4,21.97],[0.412,21.88],[0.527,19.4],[0.522,18.98],[0.603,21.17],[0.611,21.29],[0.501,20.07],[0.45,18.49],[0.471,18.37],[0.552,17.88],[0.59,17.57],[0.654,17.7],[0.685,17.39],[0.718,17.33],[0.756,17.63],[0.794,17.27],[0.827,17.33],[0.84,17.45],[-0.102,21.84],[0.374,18.24],[0.4,18.12],[0.361,18.49],[0.412,17.88],[0.438,18.0],[0.476,17.82],[0.501,17.66],[0.527,17.76],[0.552,17.54],[0.344,18.98],[0.379,18.61],[0.624,17.49],[0.73,17.57],[0.95,17.7],[0.93,17.35],[0.97,17.9],[1.0,17.6],[0.98,17.4]];
const B1R_clump = [[1.1,17.35],[1.18,17.33],[1.26,17.36],[1.34,17.34],[1.42,17.36],[1.0,17.45],[1.07,17.44],[1.13,17.46],[1.2,17.45],[1.27,17.44],[1.33,17.46],[1.4,17.45],[1.45,17.44],[0.97,17.55],[1.04,17.54],[1.1,17.56],[1.16,17.55],[1.22,17.54],[1.28,17.56],[1.35,17.55],[1.41,17.54],[1.02,17.65],[1.08,17.64],[1.14,17.66],[1.19,17.65],[1.25,17.64],[1.31,17.66],[1.37,17.65],[1.43,17.64],[0.99,17.75],[1.05,17.74],[1.11,17.76],[1.17,17.75],[1.23,17.74],[1.29,17.76],[1.34,17.75],[1.4,17.74],[1.45,17.76],[1.03,17.85],[1.09,17.84],[1.15,17.86],[1.21,17.85],[1.27,17.84],[1.32,17.86],[1.38,17.85],[1.44,17.84],[1.06,17.95],[1.13,17.94],[1.2,17.96],[1.26,17.95],[1.33,17.94],[1.39,17.96],[1.45,17.95],[1.12,18.05],[1.22,18.04],[1.3,18.06],[1.38,18.05],[1.44,18.04],[1.25,18.15],[1.36,18.14],[1.43,18.16],[1.3,17.28],[1.38,17.27],[1.07,17.5],[1.14,17.6],[1.24,17.5],[1.3,17.6],[1.38,17.5],[1.44,17.7],[1.12,17.7],[1.2,17.8],[1.3,17.8],[1.36,17.9],[1.42,17.6],[1.18,17.9],[1.4,18.0],
[1.03,17.4],[1.15,17.4],[1.23,17.4],[1.31,17.4],[1.4,17.4],[1.0,17.5],[1.1,17.5],[1.17,17.5],[1.28,17.5],[1.34,17.5],[1.43,17.5],[1.0,17.6],[1.06,17.6],[1.19,17.6],[1.25,17.6],[1.36,17.6],[1.03,17.7],[1.08,17.7],[1.16,17.7],[1.22,17.7],[1.28,17.7],[1.33,17.7],[1.39,17.7],[1.02,17.8],[1.08,17.8],[1.14,17.8],[1.25,17.8],[1.35,17.8],[1.42,17.8],[1.09,17.9],[1.15,17.9],[1.23,17.9],[1.29,17.9],[1.42,17.9],[1.09,18.0],[1.16,18.0],[1.25,18.0],[1.34,18.0],[1.2,18.1],[1.33,18.1],[1.4,18.1]];

// --- row 2 : F439W ---
const B2L_blue = [[0.126,22.37],[0.21,21.84],[0.34,20.55],[0.46,19.33],[0.6,18.53],[0.77,18.2],[0.98,18.07],[1.16,18.07],[1.34,18.16]];
const B2L_green = [[0.155,22.05],[0.28,21.41],[0.42,20.31],[0.55,19.33],[0.69,18.83],[0.88,18.65],[1.12,18.61],[1.55,18.71],[1.83,18.83],[2.09,19.02]];
const B2L_rdash = [[0.42,20.31],[0.53,19.63],[0.63,19.08],[0.77,18.9],[0.98,18.77],[1.34,18.86],[1.76,19.08],[2.11,19.26]];
const B2L_rsolid = [[2.11,19.26],[2.46,19.45],[2.74,19.51],[2.88,19.45]];
const B2L_arrow = [2.5,20.0,2.85,21.35];
const B2L_pts = [[-0.27,21.93],[-0.15,21.41],[-0.01,22.18],[0.01,20.12],[0.07,21.84],[0.13,20.63],[0.18,19.88],[0.25,20.49],[0.28,20.43],[0.32,19.45],[0.35,19.69],[0.39,19.55],[0.42,19.33],[0.44,19.94],[0.46,20.31],[0.48,20.8],[0.49,20.92],[0.51,21.6],[0.53,21.47],[0.55,20.06],[0.56,18.71],[0.6,18.28],[0.63,18.9],[0.65,18.47],[0.67,19.33],[0.69,20.31],[0.7,20.61],[0.74,20.67],[0.77,20.43],[0.83,19.33],[0.86,19.69],[0.95,20.49],[0.74,21.72],[0.63,19.2],[0.67,19.45],[0.7,19.57],[0.77,19.88],[0.81,20.06],[0.58,20.55],[0.6,20.8],[0.62,21.04],[0.72,18.96],[0.74,18.4],[0.76,18.1],[0.77,17.98],[0.84,18.16],[0.88,18.28],[0.91,18.56],[0.98,18.07],[1.02,17.91],[1.05,17.79],[1.09,17.98],[1.12,17.85],[1.19,17.91],[1.25,18.1],[1.3,17.98],[1.34,17.83],[1.41,17.91],[1.44,18.04],[1.51,17.85],[1.55,17.98],[1.58,18.1],[1.62,17.91],[1.69,18.04],[1.72,18.16],[1.74,18.28],[1.65,18.9],[1.69,18.83],[1.79,18.59],[1.83,18.4],[1.88,18.71],[1.9,18.16],[1.93,18.47],[2.0,18.4],[2.04,18.65],[2.09,17.91],[2.14,18.22],[2.21,18.16],[2.25,18.47],[2.28,18.28],[2.32,18.59],[2.39,18.53],[2.46,18.37],[2.49,18.47],[2.53,18.65],[2.59,18.47],[2.64,18.81],[2.67,18.59],[2.71,18.86],[2.74,18.65],[2.81,18.53],[2.85,18.22],[2.92,18.65],[2.95,18.22],[3.0,18.56],[3.23,18.9],[3.41,18.65],[3.44,18.86],[1.15,19.69],[0.67,18.83],[0.56,19.08],[0.7,18.59],[0.81,18.4],[0.91,18.16],[1.16,18.1],[1.48,18.1],[1.76,17.98],[1.83,18.1]];

const B2R_blue = [[0.221,22.37],[0.247,21.66],[0.272,20.55],[0.305,19.33],[0.344,18.59],[0.4,18.22],[0.476,18.1],[0.552,18.1],[0.616,18.16]];
const B2R_green = [[0.226,22.05],[0.26,21.29],[0.298,20.31],[0.336,19.33],[0.374,18.77],[0.425,18.63],[0.527,18.59],[0.654,18.69],[0.807,18.83],[0.997,19.04]];
const B2R_rdash = [[0.318,20.31],[0.349,19.45],[0.387,18.9],[0.45,18.77],[0.603,18.81],[0.781,18.96],[1.0,19.17]];
const B2R_rsolid = [[1.0,19.17],[1.163,19.33],[1.316,19.45],[1.405,19.51],[1.443,19.45]];
const B2R_arrow = [1.005,20.0,1.244,21.0];
const B2R_pts = [[0.14,20.25],[0.14,20.98],[0.176,21.72],[0.191,20.86],[0.209,22.02],[0.221,19.45],[0.247,19.51],[0.26,20.18],[0.234,20.49],[0.272,19.08],[0.285,18.83],[0.298,18.59],[0.31,19.33],[0.318,19.69],[0.328,20.43],[0.336,18.28],[0.344,18.1],[0.349,19.08],[0.354,19.94],[0.361,17.98],[0.369,18.47],[0.374,19.45],[0.379,17.85],[0.387,18.65],[0.394,20.67],[0.4,18.04],[0.405,19.69],[0.412,17.79],[0.42,18.96],[0.425,18.22],[0.43,20.43],[0.438,17.91],[0.445,20.55],[0.45,18.1],[0.463,17.79],[0.476,17.98],[0.489,19.33],[0.489,22.02],[0.496,22.09],[0.476,22.39],[0.412,22.33],[0.394,22.33],[0.501,17.85],[0.514,18.04],[0.527,17.91],[0.552,17.98],[0.578,17.85],[0.598,18.1],[0.608,21.72],[0.603,21.84],[0.522,20.0],[0.654,17.91],[0.73,18.04],[0.756,17.96],[0.82,18.16],[0.832,18.28],[0.832,17.96],[0.947,18.28],[0.438,20.25],[-0.102,21.72],[0.369,19.2],[0.323,18.9],[0.293,19.2],[0.387,19.08],[0.445,18.47],[0.4,18.3],[0.43,18.05],[0.36,18.2],[0.46,18.2],[0.53,18.15]];
const B2R_clump = [[0.95,18.45],[0.96,18.65],[0.98,18.55],[1.0,18.75],[1.01,18.5],[1.03,18.65],[1.04,18.85],[1.05,18.6],[1.07,18.75],[1.08,18.95],[1.09,18.65],[1.1,18.85],[1.11,19.05],[1.12,18.7],[1.13,18.9],[1.14,19.1],[1.15,18.8],[1.16,19.0],[1.17,19.2],[1.18,18.85],[1.19,19.05],[1.2,19.25],[1.21,18.9],[1.22,19.1],[1.23,19.3],[1.24,18.95],[1.25,19.15],[1.26,19.35],[1.27,19.05],[1.28,19.25],[1.29,19.45],[1.3,19.1],[1.31,19.3],[1.32,19.5],[1.33,19.15],[1.34,19.4],[1.35,19.6],[1.36,19.2],[1.37,19.45],[1.38,19.65],[1.39,19.3],[1.4,19.5],[1.41,19.7],[1.42,19.35],[1.43,19.55],[1.44,19.75],[1.45,19.45],[1.42,19.85],[1.38,19.05],[1.33,18.95],[1.28,18.85],[1.22,18.75],[1.16,18.65],[1.1,18.55],[1.04,18.45],[0.98,18.35],[1.06,19.05],[1.13,19.25],[1.19,19.4],[1.26,19.55],[1.32,19.65],[1.36,19.8],[1.4,19.95],[1.44,19.6],[1.45,19.3],[1.43,19.15],[1.35,19.0],[1.3,19.35],[1.24,19.2],[1.18,19.1],[1.12,19.0],[1.06,18.8],[1.0,18.6],[1.4,19.2],[1.45,19.9],[0.9,18.3],[0.92,18.5],[0.88,18.6],
[0.97,18.45],[0.99,18.65],[1.02,18.6],[1.03,18.75],[1.05,18.7],[1.06,18.9],[1.08,18.8],[1.09,18.9],[1.11,18.75],[1.12,18.95],[1.14,18.85],[1.15,19.05],[1.17,18.95],[1.18,19.2],[1.2,19.0],[1.21,19.2],[1.23,19.05],[1.24,19.35],[1.26,19.1],[1.27,19.3],[1.29,19.2],[1.3,19.5],[1.32,19.3],[1.33,19.45],[1.35,19.25],[1.36,19.55],[1.38,19.4],[1.39,19.6],[1.41,19.45],[1.42,19.6],[1.44,19.4],[1.43,19.85],[1.39,19.85],[1.35,19.75],[1.31,19.6],[1.27,19.45],[1.23,19.4],[1.19,19.25],[1.15,19.15],[1.44,19.25]];

// --- row 3 : F336W ---
const B3L_blue = [[0.126,21.36],[0.21,20.89],[0.32,19.96],[0.42,19.2],[0.56,18.86],[0.7,18.78],[0.84,18.82],[1.05,18.85],[1.34,18.85]];
const B3L_green = [[0.155,21.1],[0.28,20.55],[0.41,19.92],[0.53,19.54],[0.67,19.3],[0.84,19.28],[1.41,19.28],[1.83,19.33],[2.09,19.45]];
const B3L_rdash = [[0.49,20.0],[0.6,19.71],[0.69,19.52],[0.84,19.47],[1.41,19.47],[1.83,19.54],[2.11,19.71]];
const B3L_rsolid = [[2.11,19.71],[2.46,19.88],[2.74,20.06],[2.85,20.11],[2.92,20.06]];
const B3L_arrow = [2.5,20.0,2.85,21.46];
const B3L_pts = [[-0.27,21.14],[-0.15,20.11],[-0.01,20.76],[0.01,18.79],[0.07,20.64],[0.13,20.47],[0.14,19.75],[0.18,19.28],[0.27,18.52],[0.32,18.96],[0.35,19.79],[0.42,19.16],[0.46,18.99],[0.49,19.24],[0.51,19.62],[0.53,19.71],[0.56,18.46],[0.58,19.41],[0.6,20.38],[0.63,19.79],[0.65,19.54],[0.67,19.28],[0.7,19.16],[0.72,18.17],[0.74,20.51],[0.77,19.96],[0.8,19.79],[0.84,19.58],[0.88,19.2],[0.98,19.24],[1.02,19.54],[1.12,19.67],[1.26,19.52],[1.48,19.45],[1.69,19.5],[1.79,19.41],[1.83,19.58],[2.09,19.75],[2.11,19.84],[2.11,18.61],[2.14,18.57],[2.18,18.82],[2.21,19.2],[2.25,19.24],[2.28,18.85],[2.32,19.07],[2.35,19.28],[2.39,19.22],[2.42,18.93],[2.45,19.41],[2.49,19.07],[2.53,19.33],[2.57,19.03],[2.6,19.5],[2.64,19.37],[2.71,18.4],[2.74,19.45],[2.81,19.2],[2.85,19.2],[2.9,19.07],[2.95,19.28],[3.01,19.16],[3.23,19.45],[3.39,19.01],[3.44,19.5],[0.91,18.95],[1.19,19.03],[1.41,18.9],[1.55,19.03],[1.65,19.12],[1.76,18.99],[1.86,18.9],[1.93,18.82],[2.04,19.12],[0.74,18.95],[0.67,18.82],
[0.65,18.75],[0.68,18.6],[0.7,18.85],[0.72,18.7],[0.75,18.55],[0.77,18.8],[0.8,18.65],[0.82,18.9],[0.84,18.5],[0.86,18.75],[0.88,18.6],[0.9,18.85],[0.92,18.7],[0.94,18.55],[0.96,18.8],[0.98,18.65],[1.0,18.45],[1.02,18.75],[1.04,18.6],[1.06,18.9],[1.08,18.7],[1.1,18.55],[1.12,18.8],[1.14,18.65],[1.16,18.5],[1.18,18.75],[1.2,18.6],[1.22,18.85],[1.24,18.7],[1.26,18.55],[1.28,18.8],[1.3,18.65],[1.32,18.45],[1.34,18.75],[1.36,18.6],[1.38,18.85],[1.4,18.7],[1.42,18.55],[1.44,18.8],[1.46,18.65],[1.48,18.75],[1.5,18.6],[1.52,18.85],[1.55,18.7],[1.58,18.55],[1.6,18.8],[1.63,18.65],[1.66,18.9],[1.7,18.75],[1.74,18.6],[0.95,18.95],[1.05,19.0],[1.15,18.95],[1.25,19.0],[1.35,18.95],[1.45,19.0],[0.9,18.5],[1.12,18.4],[1.28,18.5],[0.78,18.95],[0.74,19.05],[1.62,19.0],[1.56,18.45],[0.85,19.05],
[0.7,18.7],[0.74,18.85],[0.79,18.6],[0.83,18.8],[0.87,18.55],[0.91,18.75],[0.95,18.6],[0.99,18.85],[1.03,18.55],[1.07,18.8],[1.11,18.65],[1.15,18.85],[1.19,18.55],[1.23,18.8],[1.27,18.65],[1.31,18.9],[1.35,18.7],[1.39,18.55],[1.43,18.7],[1.47,18.9],[1.51,18.7],[1.57,18.85],[1.62,18.7],[0.97,18.5],[1.09,18.45],[1.21,18.4],[1.33,18.55]];

const B3R_blue = [[0.221,21.36],[0.247,20.81],[0.272,19.96],[0.303,19.2],[0.344,18.86],[0.374,18.79],[0.425,18.85],[0.527,18.86],[0.616,18.86]];
const B3R_green = [[0.226,21.1],[0.26,20.55],[0.293,19.96],[0.328,19.54],[0.374,19.3],[0.527,19.28],[0.781,19.3],[0.997,19.45]];
const B3R_rdash = [[0.31,20.05],[0.344,19.71],[0.374,19.52],[0.45,19.47],[0.654,19.47],[0.858,19.52],[1.036,19.62]];
const B3R_rsolid = [[1.036,19.62],[1.214,19.83],[1.34,20.0],[1.405,20.09],[1.443,20.04]];
const B3R_arrow = [1.005,20.0,1.244,21.1];
const B3R_pts = [[-0.1,20.51],[0.14,19.5],[0.176,21.21],[0.196,20.76],[0.209,18.79],[0.234,19.71],[0.247,20.21],[0.26,20.47],[0.272,18.4],[0.298,19.05],[0.303,19.69],[0.336,19.54],[0.344,18.14],[0.361,19.79],[0.369,20.64],[0.374,19.45],[0.4,19.88],[0.43,19.79],[0.471,19.45],[0.476,19.92],[0.481,20.62],[0.489,21.27],[0.501,18.65],[0.552,19.03],[0.654,18.61],[0.68,18.61],[0.705,18.78],[0.725,18.86],[0.769,19.41],[0.781,19.54],[0.794,18.78],[0.807,18.78],[0.837,18.57],[0.845,19.45],[0.858,19.54],[0.985,18.4],[1.061,18.51],[0.4,19.2],[0.438,18.78],
[0.33,18.6],[0.35,18.75],[0.36,18.55],[0.37,18.9],[0.38,18.65],[0.39,18.8],[0.4,18.5],[0.41,18.7],[0.42,18.85],[0.43,18.6],[0.44,18.75],[0.45,18.55],[0.46,18.9],[0.47,18.65],[0.48,18.8],[0.49,18.5],[0.5,18.7],[0.51,18.85],[0.52,18.6],[0.53,18.75],[0.54,18.55],[0.55,18.9],[0.56,18.65],[0.57,18.8],[0.58,18.7],[0.59,18.6],[0.6,18.8],[0.62,18.7],[0.36,18.95],[0.4,18.95],[0.44,18.98],[0.5,18.95],[0.38,18.45],[0.43,18.42],[0.48,18.4],[0.52,18.45],[0.41,18.58],[0.46,18.72],[0.55,18.68],[0.34,18.85],
[0.9,18.3],[0.93,18.15],[0.96,18.45],[1.0,18.35],[1.04,18.55],[0.92,18.6],[1.07,18.65],[1.1,18.75]];
const B3R_clump = [[0.95,18.85],[0.97,19.0],[0.99,18.9],[1.0,19.1],[1.02,18.95],[1.03,19.15],[1.05,19.05],[1.06,19.25],[1.07,19.0],[1.08,19.2],[1.09,19.35],[1.1,19.1],[1.11,19.3],[1.12,19.45],[1.13,19.15],[1.14,19.35],[1.15,19.55],[1.16,19.25],[1.17,19.45],[1.18,19.65],[1.19,19.3],[1.2,19.5],[1.21,19.7],[1.22,19.4],[1.23,19.6],[1.24,19.8],[1.25,19.45],[1.26,19.65],[1.27,19.85],[1.28,19.5],[1.29,19.75],[1.3,19.95],[1.31,19.6],[1.32,19.8],[1.33,20.0],[1.34,20.2],[1.35,19.7],[1.36,19.9],[1.37,20.1],[1.38,20.3],[1.39,19.8],[1.4,20.0],[1.41,20.2],[1.42,20.4],[1.43,19.9],[1.44,20.1],[1.45,20.3],[1.43,20.55],[1.44,20.65],[1.41,20.5],[1.39,20.45],[1.36,20.35],[1.33,20.25],[1.3,20.1],[1.27,20.0],[1.24,19.95],[1.21,19.85],[1.18,19.75],[1.15,19.7],[1.12,19.6],[1.09,19.5],[1.06,19.4],[1.04,19.3],[1.01,19.25],[0.98,19.15],[1.4,19.6],[1.36,19.5],[1.32,19.4],[1.28,19.3],[1.24,19.25],[1.2,19.15],[1.16,19.05],[1.12,18.95],[1.08,18.85],[1.04,18.8],[1.0,18.7],[1.44,19.7],[1.45,20.5],[1.42,20.7],[1.38,20.0],[1.35,20.45],[1.3,20.4],
[0.96,18.95],[0.98,19.05],[1.01,19.05],[1.03,19.0],[1.04,19.2],[1.06,19.15],[1.07,19.3],[1.09,19.25],[1.1,19.4],[1.12,19.3],[1.13,19.5],[1.15,19.4],[1.16,19.6],[1.18,19.5],[1.19,19.6],[1.21,19.55],[1.22,19.75],[1.24,19.65],[1.25,19.85],[1.27,19.7],[1.28,19.9],[1.3,19.8],[1.31,20.0],[1.32,20.15],[1.34,19.9],[1.35,20.05],[1.36,20.2],[1.37,19.95],[1.38,20.15],[1.39,20.35],[1.4,20.1],[1.41,20.3],[1.42,20.55],[1.43,20.2],[1.44,20.4],[1.45,20.6],[1.44,19.85],[1.41,19.75],[1.37,19.65],[1.33,19.55],[1.29,19.55],[1.43,20.7],[1.4,20.65],[1.38,20.5]];

// --- row 4 : F255W ---
const B4L_blue = [[0.126,21.47],[0.21,21.1],[0.32,20.19],[0.42,19.68],[0.56,19.46],[0.67,19.44],[0.84,19.63],[1.12,19.91],[1.34,20.14]];
const B4L_green = [[0.155,21.21],[0.32,20.81],[0.49,20.42],[0.62,20.08],[0.7,20.02],[0.91,20.19],[1.26,20.53],[1.69,20.93],[2.09,21.49]];
const B4L_rdash = [[0.28,20.81],[0.42,20.5],[0.65,20.19],[0.84,20.31],[1.19,20.59],[1.55,20.93],[1.93,21.43],[2.11,21.72]];
const B4L_rsolid = [[2.11,21.72],[2.39,22.23],[2.67,22.62],[2.81,22.9],[2.92,22.98]];
const B4L_arrow = [2.5,18.5,2.85,20.3];
const B4L_pts = [[-0.27,20.85],[-0.15,19.93],[-0.01,20.7],[0.01,18.8],[0.13,20.72],[0.18,19.85],[0.27,18.8],[0.32,19.06],[0.41,19.57],[0.49,21.13],[0.55,19.03],[0.56,19.37],[0.62,20.81],[0.72,18.87],[0.74,21.27],[0.6,20.25],[0.63,20.36],[0.69,20.53],[0.74,20.64],[0.91,20.76],[1.09,20.7],[1.26,20.76],[1.53,20.64],[1.69,20.7],[1.72,20.53],[1.83,20.84],[1.88,20.64],[1.93,21.15],[1.97,20.98],[2.09,21.58],[2.11,21.77],[2.14,21.27],[2.18,21.13],[2.23,21.13],[2.28,21.32],[2.32,21.49],[2.39,21.36],[2.42,21.32],[2.49,21.38],[2.54,21.72],[2.6,21.49],[2.67,21.13],[2.61,22.0],[2.66,22.11],[2.74,22.06],[2.81,22.0],[2.85,22.11],[2.9,22.17],[2.94,22.23],[2.95,22.4],[2.99,22.34],[3.01,22.17],[2.81,22.34],[3.22,22.71],[3.37,22.49],[3.41,22.42],[3.43,22.98],[2.04,20.93],[1.79,20.7],[2.11,20.81],[2.25,21.49],[2.46,21.72],
[0.62,19.55],[0.65,19.75],[0.68,19.6],[0.7,19.9],[0.72,19.5],[0.74,19.7],[0.76,19.85],[0.78,19.6],[0.8,20.0],[0.82,19.75],[0.84,19.65],[0.86,19.9],[0.88,19.7],[0.9,20.05],[0.92,19.8],[0.94,19.7],[0.96,19.95],[0.98,19.8],[1.0,20.1],[1.02,19.85],[1.04,19.75],[1.06,20.0],[1.08,19.85],[1.1,20.15],[1.12,19.9],[1.14,19.8],[1.16,20.05],[1.18,19.95],[1.2,20.2],[1.22,20.0],[1.24,19.9],[1.26,20.15],[1.28,20.05],[1.3,20.3],[1.32,20.1],[1.34,20.0],[1.36,20.25],[1.38,20.15],[1.4,20.35],[1.42,20.2],[1.45,20.1],[1.48,20.3],[1.5,20.2],[1.53,20.4],[1.56,20.3],[1.6,20.25],[1.64,20.45],[1.68,20.35],[0.75,19.45],[0.85,19.55],[0.95,19.6],[1.05,19.65],[1.15,19.75],[1.25,19.8],[0.66,19.45],[0.9,19.5],[1.0,19.9],[1.2,19.9],[1.1,20.3],[1.3,20.4],
[0.64,19.65],[0.69,19.8],[0.73,19.6],[0.77,19.75],[0.81,19.9],[0.85,19.7],[0.89,19.85],[0.93,19.95],[0.97,19.7],[1.01,19.95],[1.05,19.9],[1.09,20.05],[1.13,20.0],[1.17,19.9],[1.21,20.1],[1.25,20.05],[1.29,20.2],[1.33,20.2],[1.37,20.1],[1.41,20.3],[1.46,20.2],[1.52,20.3],[1.58,20.4]];

const B4R_blue = [[0.221,21.47],[0.247,21.1],[0.272,20.36],[0.303,19.68],[0.344,19.48],[0.374,19.51],[0.425,19.68],[0.527,19.91],[0.616,20.16]];
const B4R_green = [[0.226,21.21],[0.272,20.87],[0.31,20.36],[0.349,20.08],[0.387,20.0],[0.476,20.19],[0.654,20.53],[0.832,20.93],[0.997,21.49]];
const B4R_rdash = [[0.26,20.98],[0.323,20.5],[0.387,20.19],[0.476,20.36],[0.603,20.53],[0.756,20.87]];
const B4R_rsolid = [[1.03,21.77],[1.214,22.28],[1.34,22.73],[1.405,22.94],[1.443,22.98]];
const B4R_arrow = [1.005,18.5,1.244,19.85];
const B4R_pts = [[-0.102,21.24],[0.14,20.87],[0.196,20.76],[0.209,18.78],[0.234,19.01],[0.247,19.06],[0.26,19.57],[0.277,20.76],[0.298,18.78],[0.336,18.84],[0.318,19.18],[0.361,20.47],[0.387,20.64],[0.425,20.64],[0.45,20.42],[0.481,21.13],[0.501,20.47],[0.527,20.42],[0.565,20.64],[0.598,20.59],[0.629,20.47],[0.654,20.36],[0.68,20.64],[0.705,20.14],[0.73,20.87],[0.756,20.87],[0.8,20.81],[0.811,20.53],[0.832,20.36],[0.837,20.7],[0.908,21.6],[0.921,21.7],[0.934,21.94],[0.939,22.15],[0.96,21.44],[0.972,21.7],[0.985,21.6],[1.005,22.06],[1.01,20.76],[1.023,20.7],[1.036,21.32],[1.048,21.49],[1.066,21.15],[1.074,22.23],[1.087,22.0],[1.1,21.6],[1.112,22.45],[1.125,22.28],[1.137,21.27],[1.15,21.83],[1.163,21.66],[1.176,21.38],[1.183,20.98],[1.194,22.06],[1.214,21.55],[1.227,21.72],[1.252,21.47],[1.321,22.11],[1.328,22.15],[1.341,22.85],[1.379,22.11],[1.405,21.94],[1.418,22.68],
[0.26,19.6],[0.28,19.85],[0.3,19.45],[0.31,19.7],[0.32,19.95],[0.33,19.3],[0.34,19.55],[0.35,19.8],[0.36,20.05],[0.37,19.4],[0.38,19.65],[0.39,19.9],[0.4,19.3],[0.41,19.55],[0.42,19.75],[0.43,20.0],[0.44,19.45],[0.45,19.65],[0.46,19.9],[0.47,20.15],[0.48,19.5],[0.49,19.75],[0.5,19.95],[0.51,19.6],[0.52,19.85],[0.53,20.1],[0.54,19.7],[0.55,19.95],[0.56,20.2],[0.57,19.8],[0.58,20.0],[0.59,20.25],[0.6,19.9],[0.61,20.1],[0.36,19.25],[0.42,19.2],[0.48,19.3],[0.54,19.45],[0.44,20.25],[0.5,20.3],[0.32,20.2],[0.38,20.15],[0.29,20.1],
[0.3,19.6],[0.33,19.75],[0.35,19.5],[0.37,19.7],[0.39,19.5],[0.41,19.85],[0.43,19.6],[0.45,19.8],[0.47,19.6],[0.49,19.9],[0.51,19.75],[0.53,19.9],[0.55,19.8],[0.57,20.05],[0.59,19.9],[0.34,20.0],[0.4,20.05],[0.46,20.05],[0.52,20.05]];

// ---------------- panel table (row-major: 8 rows x 2 cols) ----------------
const panelData = [
  [A1L_pts, [], A1L_blue, A1L_green, A1L_rdash, A1L_rsolid, A1L_arrow],
  [A1R_pts, A1R_clump, A1R_blue, A1R_green, A1R_rdash, A1R_rsolid, A1R_arrow],
  [A2L_pts, [], A2L_blue, A2L_green, A2L_rdash, A2L_rsolid, A2L_arrow],
  [A2R_pts, A2R_clump, A2R_blue, A2R_green, A2R_rdash, A2R_rsolid, A2R_arrow],
  [A3L_pts, [], A3L_blue, A3L_green, A3L_rdash, A3L_rsolid, A3L_arrow],
  [A3R_pts, A3R_clump, A3R_blue, A3R_green, A3R_rdash, A3R_rsolid, A3R_arrow],
  [A4L_pts, [], A4L_blue, A4L_green, A4L_rdash, A4L_rsolid, A4L_arrow],
  [A4R_pts, [], A4R_blue, A4R_green, A4R_rdash, A4R_rsolid, A4R_arrow],
  [B1L_pts, [], B1L_blue, B1L_green, B1L_rdash, B1L_rsolid, B1L_arrow],
  [B1R_pts, B1R_clump, B1R_blue, B1R_green, B1R_rdash, B1R_rsolid, B1R_arrow],
  [B2L_pts, [], B2L_blue, B2L_green, B2L_rdash, B2L_rsolid, B2L_arrow],
  [B2R_pts, B2R_clump, B2R_blue, B2R_green, B2R_rdash, B2R_rsolid, B2R_arrow],
  [B3L_pts, [], B3L_blue, B3L_green, B3L_rdash, B3L_rsolid, B3L_arrow],
  [B3R_pts, B3R_clump, B3R_blue, B3R_green, B3R_rdash, B3R_rsolid, B3R_arrow],
  [B4L_pts, [], B4L_blue, B4L_green, B4L_rdash, B4L_rsolid, B4L_arrow],
  [B4R_pts, [], B4R_blue, B4R_green, B4R_rdash, B4R_rsolid, B4R_arrow]
];

// ---------------- geometry / style ----------------
const W = 762, H = 1636;
const colPx = [[79,419.5],[419.5,762]];
const rowPx = [[41.7,218.3],[218.3,409],[409,573],[573,750],[865,1042.7],[1042.7,1219.3],[1219.3,1396.7],[1396.7,1574]];
const boxPx = [[4,41.7],[828.3,865]];
const xRanges = [[-0.962,3.975],[-0.198,1.6]];
const xMinor = [0.2,0.1];
const yRanges = [[22,16],[23,16],[23,16],[23,17],[22.5,16],[23,16.5],[22,17.5],[24,18]];
const yMinor = [0.5,0.5,0.5,0.5,0.5,0.5,0.2,0.5];
const BLUE = '#1f4fe8', GREEN = '#1ee01e', RED = '#ff3020';
const FONT = 'DejaVu Serif';
const TITLE_SIZE = 19, SUB_SIZE = 11;

const xs = a => a.map(p => p ? p[0] : null);
const ys = a => a.map(p => p ? p[1] : null);

const traces = [];
const layout = {
  width: W, height: H, margin: {l:0, r:0, t:0, b:0},
  paper_bgcolor: '#fff', plot_bgcolor: 'rgba(0,0,0,0)',
  showlegend: false, shapes: [], annotations: [],
  font: {family: FONT, color: '#000'}
};

function arrowXY(a, c, r) {
  const [x0,y0,x1,y1] = a;
  const xr = xRanges[c], yr = yRanges[r];
  const kx = (colPx[c][1]-colPx[c][0])/(xr[1]-xr[0]);
  const ky = (rowPx[r][1]-rowPx[r][0])/(yr[0]-yr[1]);
  const dx = (x1-x0)*kx, dy = (y1-y0)*ky;
  const len = Math.hypot(dx, dy), ux = dx/len, uy = dy/len;
  const L = 20, th = 13*Math.PI/180;
  const b = [th, -th].map(t => {
    const rx = ux*Math.cos(t) - uy*Math.sin(t);
    const ry = ux*Math.sin(t) + uy*Math.cos(t);
    return [x1 - L*rx/kx, y1 - L*ry/ky];
  });
  return {x:[x0,x1,null,b[0][0],x1,b[1][0]], y:[y0,y1,null,b[0][1],y1,b[1][1]]};
}

panelData.forEach((pd, i) => {
  const r = Math.floor(i/2), c = i % 2, n = i + 1;
  const xa = 'x' + (n > 1 ? n : ''), ya = 'y' + (n > 1 ? n : '');
  const [pts, clump, blue, green, rdash, rsolid, arrow] = pd;
  const common = {xaxis: xa, yaxis: ya, hoverinfo: 'skip', cliponaxis: true};
  traces.push(Object.assign({type:'scatter', mode:'markers', x: xs(pts), y: ys(pts),
    marker:{color:'#000', size:4.5}}, common));
  if (clump.length) traces.push(Object.assign({type:'scatter', mode:'markers', x: xs(clump), y: ys(clump),
    marker:{color:'#000', size:5.5}}, common));
  traces.push(Object.assign({type:'scatter', mode:'lines', x: xs(rdash), y: ys(rdash),
    line:{color:RED, width:2, dash:'9px,6px'}}, common));
  traces.push(Object.assign({type:'scatter', mode:'lines', x: xs(rsolid), y: ys(rsolid),
    line:{color:RED, width:2}}, common));
  traces.push(Object.assign({type:'scatter', mode:'lines', x: xs(green), y: ys(green),
    line:{color:GREEN, width:2, shape:'spline', smoothing:0.6}}, common));
  traces.push(Object.assign({type:'scatter', mode:'lines', x: xs(blue), y: ys(blue),
    line:{color:BLUE, width:2, shape:'spline', smoothing:0.6}}, common));
  const ar = arrowXY(arrow, c, r);
  traces.push(Object.assign({type:'scatter', mode:'lines', x: ar.x, y: ar.y,
    line:{color:'#000', width:1.1}}, common));

  const bottom = (r === 3 || r === 7);
  const axBase = {
    showline:true, linecolor:'#000', linewidth:2.5, mirror:'allticks',
    ticks:'inside', ticklen:12, tickwidth:1.5, tickcolor:'#000',
    showgrid:false, zeroline:false, fixedrange:true,
    tickfont:{family:FONT, size:16, color:'#000'}
  };
  const xax = Object.assign({}, axBase, {
    domain:[colPx[c][0]/W, colPx[c][1]/W], anchor: ya, range: xRanges[c],
    tickmode:'array', tickvals: xTickVals[c], ticktext: xTickText[c],
    showticklabels: bottom, ticklabelstandoff: 9,
    minor:{ticks:'inside', ticklen:6, tickwidth:1.5, tickcolor:'#000', dtick:xMinor[c], tick0:0, showgrid:false}
  });
  if (bottom) xax.title = {text: xTitles[c], font:{family:FONT, size:25, color:'#000'}, standoff: 3};
  layout['xaxis' + (n > 1 ? n : '')] = xax;
  const yax = Object.assign({}, axBase, {
    domain:[1 - rowPx[r][1]/H, 1 - rowPx[r][0]/H], anchor: xa, range: yRanges[r],
    tickmode:'array', tickvals: yTickVals[r], ticktext: yTickText[r],
    showticklabels: c === 0, ticklabelstandoff: 10,
    minor:{ticks:'inside', ticklen:6, tickwidth:1.5, tickcolor:'#000', dtick:yMinor[r], tick0:0, showgrid:false}
  });
  if (c === 0) yax.title = {text: yTitles[r], font:{family:FONT, size:25, color:'#000'}, standoff: 3};
  layout['yaxis' + (n > 1 ? n : '')] = yax;
});

// title boxes: main text, subscript and tail laid out side by side (measured widths)
const mctx = document.createElement('canvas').getContext('2d');
function textWidth(s, size) { mctx.font = size + 'px "' + FONT + '"'; return mctx.measureText(s).width; }
[title1Parts, title2Parts].forEach((parts, k) => {
  layout.shapes.push({type:'rect', xref:'paper', yref:'paper',
    x0: colPx[0][0]/W, x1: 1.003, y0: 1 - boxPx[k][1]/H, y1: 1 - boxPx[k][0]/H,
    line:{color:'#000', width:2.5}, fillcolor:'rgba(0,0,0,0)'});
  const yc = 1 - (boxPx[k][0]+boxPx[k][1])/2/H;
  const x0 = 104;
  const x1 = x0 + textWidth(parts[0], TITLE_SIZE) + 1;
  const x2 = x1 + textWidth(parts[1], SUB_SIZE) + 1;
  const base = {xref:'paper', yref:'paper', xanchor:'left', yanchor:'middle', showarrow:false, borderpad:0};
  layout.annotations.push(Object.assign({}, base, {x: x0/W, y: yc, text: parts[0],
    font:{family:FONT, size:TITLE_SIZE, color:'#000'}}));
  layout.annotations.push(Object.assign({}, base, {x: x1/W, y: yc, yshift: -6, text: parts[1],
    font:{family:FONT, size:SUB_SIZE, color:'#000'}}));
  layout.annotations.push(Object.assign({}, base, {x: x2/W, y: yc, text: parts[2],
    font:{family:FONT, size:TITLE_SIZE, color:'#000'}}));
});

Plotly.newPlot('chart', traces, layout, {staticPlot:true, displayModeBar:false});
</script></body></html>
